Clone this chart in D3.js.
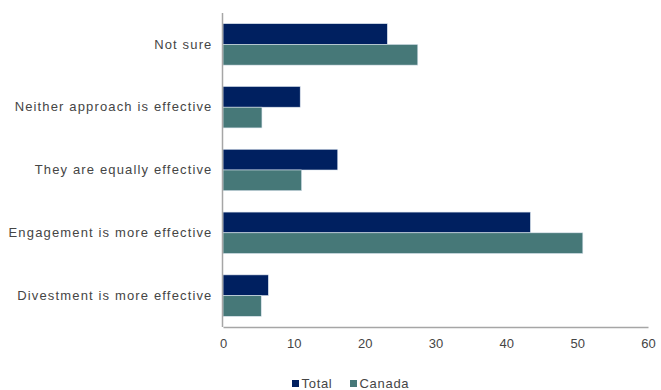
<!DOCTYPE html>
<html>
<head>
<meta charset="utf-8">
<script src="https://cdn.jsdelivr.net/npm/d3@7"></script>
<style>
  html, body { margin: 0; padding: 0; background: #ffffff; }
  svg { display: block; font-family: "Liberation Sans", Arial, sans-serif; }
</style>
</head>
<body>
<svg id="chart" width="661" height="390"></svg>
<script>
// Survey answers, top to bottom
const categories = [
  "Not sure",
  "Neither approach is effective",
  "They are equally effective",
  "Engagement is more effective",
  "Divestment is more effective"
];
const seriesNames = ["Total", "Canada"];
const totalValues  = [23.2, 10.9, 16.2, 43.4, 6.4];
const canadaValues = [27.5, 5.5, 11.1, 50.8, 5.4];
const xTicks = [0, 10, 20, 30, 40, 50, 60];
const colors = ["#002060", "#467878"];

const rows = categories.map((c, i) => ({ category: c, values: [totalValues[i], canadaValues[i]] }));

const svg = d3.select("#chart");
const margin = { left: 223, right: 12, top: 13, bottom: 63 };
const width = 661, height = 390;

const x = d3.scaleLinear().domain([0, 60]).range([margin.left, 648]);
const y = d3.scaleBand().domain(categories).range([margin.top, height - margin.bottom]).paddingInner(0.34).paddingOuter(0.17);
const ySub = d3.scaleBand().domain(seriesNames).range([0, y.bandwidth()]);

const textColor = "#454545";
const axisColor = "#a6a6a6";

// bars
const groups = svg.append("g").selectAll("g").data(rows).join("g")
  .attr("transform", d => `translate(0,${y(d.category)})`);
groups.selectAll("rect").data(d => d.values.map((v, i) => ({ v, s: seriesNames[i], i })))
  .join("rect")
  .attr("x", x(0))
  .attr("y", d => ySub(d.s))
  .attr("width", d => x(d.v) - x(0))
  .attr("height", ySub.bandwidth())
  .attr("fill", d => colors[d.i])
  .attr("stroke", "#dbe4ee")
  .attr("stroke-width", 0.6);

// x axis
const xAxis = svg.append("g")
  .attr("transform", `translate(0,${height - margin.bottom})`)
  .call(d3.axisBottom(x).tickValues(xTicks).tickSize(0).tickPadding(12));
xAxis.select(".domain").attr("stroke", axisColor).attr("stroke-width", 1.5);
xAxis.selectAll("text").attr("fill", textColor).style("font-size", "13px")
  .style("font-family", "Liberation Sans, Arial, sans-serif");

// y axis
const yAxis = svg.append("g")
  .attr("transform", `translate(${x(0) - 0.5},0)`)
  .call(d3.axisLeft(y).tickSize(0).tickPadding(10));
yAxis.select(".domain").attr("stroke", axisColor).attr("stroke-width", 1.5)
  .attr("d", `M0,${margin.top}V${height - margin.bottom}`);
yAxis.selectAll("text").attr("fill", textColor).style("font-size", "13px")
  .style("letter-spacing", "1.15px")
  .style("font-family", "Liberation Sans, Arial, sans-serif");

// legend
const legendItems = [
  { name: "Total", x: 292, color: colors[0] },
  { name: "Canada", x: 350, color: colors[1] }
];
const legend = svg.append("g");
legendItems.forEach(item => {
  legend.append("rect").attr("x", item.x).attr("y", 380).attr("width", 7).attr("height", 7).attr("fill", item.color);
  legend.append("text").attr("x", item.x + 9.5).attr("y", 388)
    .attr("fill", textColor).style("font-size", "13px").style("letter-spacing", "0.7px").text(item.name);
});
</script>
</body>
</html>
